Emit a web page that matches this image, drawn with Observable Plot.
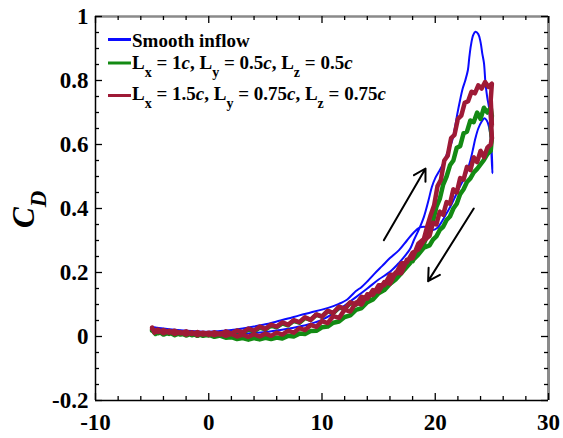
<!DOCTYPE html>
<html><head><meta charset="utf-8">
<script src="https://cdn.jsdelivr.net/npm/d3@7"></script>
<script src="https://cdn.jsdelivr.net/npm/@observablehq/plot@0.6"></script>
<style>body{margin:0;background:#fff}#chart{width:563px;height:438px}</style>
</head><body><div id="chart"></div>
<script>
// ---- data (alpha in degrees, CD) ----
const smoothLoop = [
[-5,0.030],[-4,0.024],[-3,0.019],[-2,0.015],[-1,0.012],[0,0.010],[1,0.009],[2,0.009],[3,0.009],[4,0.011],[5,0.014],[6,0.019],[7,0.024],[8,0.031],[9,0.040],[10,0.052],[11,0.072],[12,0.097],[13,0.123],[14,0.150],[15,0.178],[16,0.202],[16.8,0.230],[17.4,0.255],[17.8,0.275],[18.1,0.300],[18.6,0.338],[19.0,0.374],[19.4,0.425],[19.7,0.467],[20.0,0.495],[20.3,0.514],[20.7,0.540],[21.05,0.572],[21.5,0.613],[21.75,0.655],[21.94,0.694],[22.2,0.740],[22.4,0.772],[22.65,0.800],[22.88,0.832],[23.0,0.870],[23.15,0.910],[23.35,0.942],[23.55,0.952],[23.8,0.945],[24.0,0.920],[24.15,0.885],[24.3,0.855],[24.44,0.790],[24.6,0.745],[24.75,0.715],[24.88,0.644],[24.95,0.580],[25.05,0.510],
[24.95,0.600],[24.75,0.655],[24.55,0.675],[24.35,0.682],[24.1,0.672],[23.8,0.650],[23.55,0.620],[23.3,0.580],[23.1,0.550],[22.8,0.515],[22.5,0.490],[22.2,0.470],[21.8,0.440],[21.4,0.410],[21.0,0.385],[20.6,0.360],[20.2,0.340],[19.8,0.333],[19.4,0.340],[19.0,0.343],[18.6,0.340],[18.1,0.325],[17.5,0.300],[16.8,0.270],[16.0,0.245],[15.3,0.220],[14.6,0.195],[14.0,0.172],[13.5,0.155],[13.0,0.142],[12.6,0.128],[12.2,0.115],[11.5,0.102],[11,0.095],[10,0.084],[9,0.075],[8,0.066],[7,0.056],[6,0.047],[5,0.038],[4,0.031],[3,0.025],[2,0.020],[1,0.017],[0,0.015],[-1,0.016],[-2,0.018],[-3,0.021],[-4,0.025],[-5,0.030]
];
const lx1Loop = [
[-5.0,0.020],[-4.7,0.008],[-4.4,0.016],[-4.0,0.006],[-3.5,0.013],[-3.0,0.004],[-2.5,0.011],[-2.0,0.003],[-1.5,0.010],[-1.0,0.002],[-0.5,0.010],[0.0,0.003],[0.5,0.011],[1.0,0.005],[1.5,0.014],[2.0,0.008],[2.5,0.017],[3.0,0.011],[3.5,0.022],[4.0,0.016],[4.5,0.028],[5.0,0.022],[5.5,0.034],[6.0,0.029],[6.5,0.041],[7.0,0.035],[7.5,0.049],[8.0,0.043],[8.5,0.058],[9.0,0.052],[9.5,0.068],[10.0,0.062],[10.5,0.079],[11.0,0.073],[11.5,0.091],[12.0,0.086],[12.5,0.105],[13.0,0.100],[13.5,0.122],[14.0,0.118],[14.5,0.143],[15.0,0.140],[15.5,0.168],[16.0,0.165],[16.5,0.197],[17.0,0.197],[17.5,0.233],[18.0,0.235],[18.5,0.275],[19.0,0.290],[19.4,0.325],[19.8,0.360],[20.1,0.405],[20.4,0.430],[20.7,0.475],[21.0,0.500],[21.3,0.535],[21.6,0.550],[21.9,0.590],[22.2,0.595],[22.5,0.635],[22.8,0.640],[23.1,0.675],[23.4,0.670],[23.7,0.700],[24.0,0.680],[24.3,0.715],[24.6,0.700],[24.9,0.715],[25.0,0.690],[24.9,0.650],[25.0,0.620],[24.9,0.580],
[24.6,0.570],[24.3,0.552],[24.0,0.538],[23.7,0.524],[23.4,0.513],[23.1,0.494],[22.8,0.483],[22.5,0.460],[22.2,0.445],[21.9,0.415],[21.6,0.400],[21.3,0.375],[21.0,0.364],[20.7,0.343],[20.4,0.333],[20.1,0.313],[19.8,0.303],[19.5,0.285],[19.0,0.278],[18.5,0.256],[18.0,0.238],[17.5,0.218],[17.0,0.198],[16.5,0.178],[16.0,0.164],[15.5,0.145],[15.0,0.135],[14.5,0.116],[14.0,0.107],[13.5,0.089],[13.0,0.083],[12.5,0.066],[12.0,0.061],[11.5,0.047],[11.0,0.043],[10.5,0.031],[10.0,0.029],[9.5,0.018],[9.0,0.017],[8.5,0.008],[8.0,0.009],[7.5,0.000],[7.0,0.002],[6.5,-0.006],[6.0,-0.003],[5.5,-0.008],[5.0,-0.004],[4.5,-0.009],[4.0,-0.005],[3.5,-0.010],[3.0,-0.005],[2.5,-0.008],[2.0,-0.002],[1.5,-0.004],[1.0,0.003],[0.5,-0.001],[0.0,0.006],[-0.5,0.002],[-1.0,0.009],[-1.5,0.004],[-2.0,0.011],[-2.5,0.006],[-3.0,0.013],[-3.5,0.008],[-4.0,0.015],[-4.5,0.010],[-5.0,0.018]
];
const lx15Loop = [
[-5.0,0.028],[-4.8,0.012],[-4.5,0.022],[-4.0,0.010],[-3.5,0.018],[-3.0,0.008],[-2.5,0.014],[-2.0,0.006],[-1.5,0.013],[-1.0,0.004],[-0.5,0.012],[0.0,0.005],[0.5,0.013],[1.0,0.006],[1.5,0.016],[2.0,0.009],[2.5,0.019],[3.0,0.013],[3.5,0.025],[4.0,0.018],[4.5,0.031],[5.0,0.024],[5.5,0.037],[6.0,0.031],[6.5,0.044],[7.0,0.037],[7.5,0.051],[8.0,0.045],[8.5,0.060],[9.0,0.052],[9.5,0.069],[10.0,0.062],[10.5,0.080],[11.0,0.074],[11.5,0.093],[12.0,0.087],[12.5,0.107],[13.0,0.100],[13.5,0.124],[14.0,0.118],[14.5,0.145],[15.0,0.140],[15.5,0.170],[16.0,0.165],[16.5,0.200],[17.0,0.198],[17.5,0.240],[18.0,0.245],[18.5,0.290],[19.0,0.305],[19.3,0.345],[19.6,0.380],[19.9,0.410],[20.2,0.470],[20.5,0.490],[20.8,0.550],[21.1,0.565],[21.4,0.620],[21.7,0.630],[22.0,0.680],[22.3,0.690],[22.6,0.730],[22.9,0.735],[23.2,0.765],[23.5,0.760],[23.8,0.785],[24.1,0.775],[24.4,0.795],[24.7,0.780],[25.0,0.790],[24.9,0.740],[25.0,0.660],[24.9,0.700],[25.0,0.620],[24.9,0.600],
[24.6,0.590],[24.3,0.560],[24.0,0.580],[23.7,0.545],[23.4,0.560],[23.1,0.520],[22.8,0.530],[22.5,0.490],[22.2,0.495],[21.9,0.450],[21.6,0.460],[21.3,0.415],[21.0,0.420],[20.7,0.380],[20.4,0.390],[20.1,0.350],[19.8,0.355],[19.5,0.315],[19.0,0.300],[18.5,0.272],[18.0,0.262],[17.5,0.232],[17.0,0.228],[16.5,0.195],[16.0,0.192],[15.5,0.160],[15.0,0.160],[14.5,0.130],[14.0,0.132],[13.5,0.100],[13.0,0.106],[12.5,0.078],[12.0,0.084],[11.5,0.058],[11.0,0.064],[10.5,0.042],[10.0,0.048],[9.5,0.030],[9.0,0.036],[8.5,0.020],[8.0,0.026],[7.5,0.012],[7.0,0.018],[6.5,0.006],[6.0,0.012],[5.5,0.002],[5.0,0.009],[4.5,0.000],[4.0,0.007],[3.5,-0.001],[3.0,0.006],[2.5,0.000],[2.0,0.008],[1.5,0.002],[1.0,0.010],[0.5,0.004],[0.0,0.012],[-0.5,0.006],[-1.0,0.014],[-1.5,0.008],[-2.0,0.016],[-2.5,0.010],[-3.0,0.018],[-3.5,0.012],[-4.0,0.020],[-4.5,0.014],[-5.0,0.024]
];
const seriesColors = ["#0b0bff", "#138a13", "#9e1a36"];
const arrowFrom = [[15.46, 0.301], [23.4, 0.400]];
const arrowTo   = [[19.14, 0.525], [19.37, 0.173]];
const xMajor = [-10, 0, 10, 20, 30];
const xMinor = [-8,-6,-4,-2,2,4,6,8,12,14,16,18,22,24,26,28];
const yMajor = [-0.2, 0, 0.2, 0.4, 0.6, 0.8, 1];
const yTickLabels = ["-0.2", "0", "0.2", "0.4", "0.6", "0.8", "1"];
const yMinor = [-0.15,-0.1,-0.05,0.05,0.1,0.15,0.25,0.3,0.35,0.45,0.5,0.55,0.65,0.7,0.75,0.85,0.9,0.95];
const legendRows = [
  [["Smooth inflow","n"]],
  [["L","n"],["x","s"],[" = 1","n"],["c","i"],[", L","n"],["y","s"],[" = 0.5","n"],["c","i"],[", L","n"],["z","s"],[" = 0.5","n"],["c","i"]],
  [["L","n"],["x","s"],[" = 1.5","n"],["c","i"],[", L","n"],["y","s"],[" = 0.75","n"],["c","i"],[", L","n"],["z","s"],[" = 0.75","n"],["c","i"]]
];

// ---- layout ----
const W = 563, H = 438, mL = 95, mR = 15, mT = 16, mB = 38;
const iW = W - mL - mR, iH = H - mT - mB;
const FONT = "'Liberation Serif','Times New Roman',serif";
const rows = (loop) => loop.map(([a, c]) => ({alpha: a, cd: c}));
const arrows = arrowFrom.map((f, i) => ({x1: f[0], y1: f[1], x2: arrowTo[i][0], y2: arrowTo[i][1]}));

const plot = Plot.plot({
  width: W, height: H, marginLeft: mL, marginRight: mR, marginTop: mT, marginBottom: mB,
  x: {domain: [-10, 30]},
  y: {domain: [-0.2, 1]},
  style: {fontFamily: FONT, fontSize: "23px", fontWeight: "bold", color: "#000", background: "#fff", overflow: "visible"},
  marks: [
    Plot.line(rows(smoothLoop), {x: "alpha", y: "cd", stroke: seriesColors[0], strokeWidth: 2, curve: "catmull-rom"}),
    Plot.line(rows(lx1Loop), {x: "alpha", y: "cd", stroke: seriesColors[1], strokeWidth: 4.5, strokeLinejoin: "round"}),
    Plot.line(rows(lx15Loop), {x: "alpha", y: "cd", stroke: seriesColors[2], strokeWidth: 4.5, strokeLinejoin: "round"}),
    Plot.arrow(arrows, {x1: "x1", y1: "y1", x2: "x2", y2: "y2", stroke: "#000", strokeWidth: 2, headLength: 10}),
    // frame
    Plot.ruleY([1], {stroke: "#8a8a8a", strokeWidth: 2.5}),
    Plot.ruleX([30], {stroke: "#8a8a8a", strokeWidth: 3}),
    Plot.ruleY([-0.2], {stroke: "#000", strokeWidth: 1.5}),
    Plot.ruleX([-10], {stroke: "#000", strokeWidth: 1.5}),
    // inward ticks
    Plot.ruleX(xMajor, {x: d => d, insetTop: iH - 7, stroke: "#000", strokeWidth: 1.3}),
    Plot.ruleX(xMinor, {x: d => d, insetTop: iH - 4, stroke: "#000", strokeWidth: 1.3}),
    Plot.ruleX(xMajor, {x: d => d, insetBottom: iH - 7, stroke: "#000", strokeWidth: 1.3}),
    Plot.ruleX(xMinor, {x: d => d, insetBottom: iH - 4, stroke: "#000", strokeWidth: 1.3}),
    Plot.ruleY(yMajor, {y: d => d, insetRight: iW - 7, stroke: "#000", strokeWidth: 1.3}),
    Plot.ruleY(yMinor, {y: d => d, insetRight: iW - 4, stroke: "#000", strokeWidth: 1.3}),
    Plot.ruleY(yMajor, {y: d => d, insetLeft: iW - 7, stroke: "#000", strokeWidth: 1.3}),
    Plot.ruleY(yMinor, {y: d => d, insetLeft: iW - 4, stroke: "#000", strokeWidth: 1.3}),
    Plot.axisX(xMajor, {tickSize: 0, tickPadding: 13, label: null, tickFormat: d => String(d)}),
    Plot.axisY(yMajor, {tickSize: 0, tickPadding: 7, label: null, tickFormat: d => yTickLabels[yMajor.indexOf(d)]})
  ]
});
document.getElementById("chart").appendChild(plot);

// ---- legend and axis title (text) ----
const svg = d3.select(plot);
const legendLineY = [39.5, 63, 95.5];
const legendBaseY = [46.5, 68.5, 99.5];
const lg = svg.append("g").attr("font-family", FONT).attr("font-weight", "bold").attr("fill", "#000").attr("text-anchor", "start");
legendRows.forEach((parts, r) => {
  lg.append("line").attr("x1", 108).attr("x2", 131).attr("y1", legendLineY[r]).attr("y2", legendLineY[r])
    .attr("stroke", seriesColors[r]).attr("stroke-width", 3);
  const t = lg.append("text").attr("x", 132).attr("y", legendBaseY[r]).attr("font-size", 19).attr("text-anchor", "start");
  let shifted = false;
  parts.forEach(([s, k]) => {
    const ts = t.append("tspan").text(s);
    if (k === "s") { ts.attr("dy", 8).attr("font-size", 14); shifted = true; }
    else if (shifted) { ts.attr("dy", -8); shifted = false; }
    if (k === "i") ts.attr("font-style", "italic");
  });
});
const yl = svg.append("text").attr("transform", "translate(34,228) rotate(-90)").attr("text-anchor", "start")
  .attr("font-family", FONT).attr("font-weight", "bold").attr("font-style", "italic").attr("fill", "#000");
yl.append("tspan").attr("font-size", 31).text("C");
yl.append("tspan").attr("font-size", 23).attr("dy", 12).text("D");
</script></body></html>
